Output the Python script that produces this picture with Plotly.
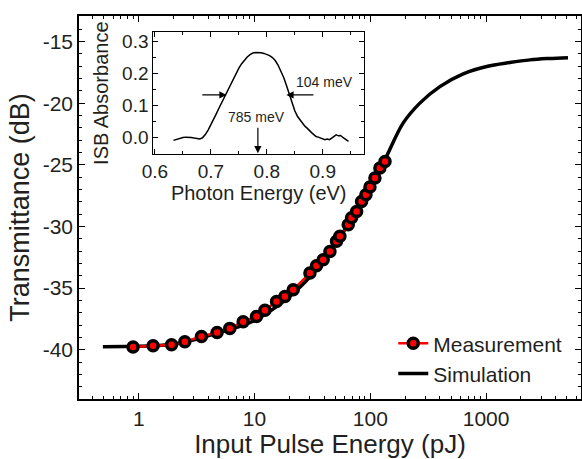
import plotly.graph_objects as go

# ---- main data ----
meas_energy = [0.893, 1.33, 1.92, 2.50, 3.48, 4.75, 6.12, 7.98, 10.4, 12.3, 15.5, 18.3, 21.6,
               30.1, 34.3, 39.2, 44.8, 51.1, 54.6, 64.5, 68.9, 76.2, 84.1, 91.7, 99.3, 109.6, 121, 134]
meas_trans = [-39.78, -39.68, -39.60, -39.35, -38.92, -38.60, -38.27, -37.73, -37.30, -36.80, -36.08,
              -35.68, -35.13, -33.78, -33.19, -32.70, -32.03, -31.20, -30.80, -29.86, -29.30, -28.78,
              -27.97, -27.43, -26.80, -26.07, -25.26, -24.73]

sim_energy = [0.49, 1.0, 1.5, 2.0, 3.0, 5.0, 8.0, 10.4, 15.5, 20, 30, 50, 70, 100, 138, 192,
              268, 399, 635, 1012, 1600, 2400, 3500, 5100]
sim_trans = [-39.75, -39.72, -39.65, -39.55, -39.20, -38.60, -38.00, -37.55, -36.50, -35.70,
             -34.10, -31.40, -29.30, -26.90, -24.32, -21.61, -19.99, -18.65, -17.62, -17.02,
             -16.70, -16.48, -16.37, -16.30]

y_ticks = [-40, -35, -30, -25, -20, -15]
y_ticktext = ["-40", "-35", "-30", "-25", "-20", "-15"]
x_ticks = [1, 10, 100, 1000]
x_ticktext = ["1", "10", "100", "1000"]

# ---- inset data ----
photon_energy = [0.633, 0.640, 0.645, 0.650, 0.655, 0.660, 0.665, 0.670, 0.675, 0.680, 0.685,
                 0.690, 0.695, 0.700, 0.705, 0.710, 0.715, 0.720, 0.725, 0.730, 0.735, 0.740,
                 0.745, 0.750, 0.755, 0.760, 0.765, 0.770, 0.775, 0.780, 0.785, 0.790, 0.795,
                 0.800, 0.805, 0.810, 0.815, 0.820, 0.825, 0.830, 0.835, 0.840, 0.845, 0.850,
                 0.855, 0.860, 0.864, 0.868, 0.872, 0.876, 0.880, 0.884, 0.888, 0.892, 0.896,
                 0.900, 0.904, 0.908, 0.912, 0.916, 0.920, 0.924, 0.928, 0.932, 0.936, 0.940,
                 0.943, 0.946]
isb_absorbance = [-0.008, -0.004, -0.001, 0.001, 0.002, 0.002, 0.001, -0.001, -0.003, -0.004, 0.000,
                  0.010, 0.024, 0.040, 0.058, 0.076, 0.094, 0.112, 0.129, 0.146, 0.164, 0.182,
                  0.200, 0.216, 0.230, 0.242, 0.251, 0.258, 0.263, 0.265, 0.265, 0.264, 0.262,
                  0.259, 0.255, 0.249, 0.240, 0.226, 0.208, 0.188, 0.163, 0.136, 0.108, 0.084,
                  0.066, 0.054, 0.046, 0.036, 0.030, 0.022, 0.016, 0.010, 0.004, 0.002, -0.001,
                  -0.003, -0.006, -0.004, -0.006, -0.001, 0.004, 0.009, 0.006, 0.007, 0.001, -0.004,
                  -0.006, -0.011]

FONT = "Liberation Sans, Arial, sans-serif"
TXT = "#231f20"

fig = go.Figure()

fig.add_trace(go.Scatter(
    x=sim_energy, y=sim_trans, mode="lines", name="Simulation",
    line=dict(color="black", width=3.5, shape="spline", smoothing=1.0),
    xaxis="x", yaxis="y"))

fig.add_trace(go.Scatter(
    x=meas_energy, y=meas_trans, mode="lines+markers", name="Measurement",
    line=dict(color="#ff0000", width=2.5),
    marker=dict(color="#ff0000", size=10, line=dict(color="black", width=3.5)),
    xaxis="x", yaxis="y"))

fig.add_trace(go.Scatter(
    x=photon_energy, y=isb_absorbance, mode="lines", showlegend=False,
    line=dict(color="black", width=1.5),
    xaxis="x2", yaxis="y2"))

axis_common = dict(showline=True, linecolor="black", mirror="allticks", automargin=False,
                   ticks="inside", tickcolor="black", showgrid=False, zeroline=False)

fig.update_layout(
    width=582, height=459,
    margin=dict(l=79, r=1, t=16, b=60, autoexpand=False),
    paper_bgcolor="white", plot_bgcolor="white",
    font=dict(family=FONT, color=TXT),
    legend=dict(x=0.626, y=0.198, xanchor="left", yanchor="top",
                font=dict(size=21, family=FONT, color=TXT),
                bgcolor="rgba(0,0,0,0)", traceorder="reversed",
                itemwidth=30, tracegroupgap=0),
    xaxis=dict(type="log", range=[-0.516, 3.82], tickvals=x_ticks, ticktext=x_ticktext,
               ticklen=6, tickwidth=1.2, linewidth=1.5,
               minor=dict(ticks="inside", ticklen=3, tickcolor="black", dtick="D1", showgrid=False),
               tickfont=dict(size=21),
               title=dict(text="Input Pulse Energy (pJ)", font=dict(size=26), standoff=3),
               **axis_common),
    yaxis=dict(range=[-44, -12.92], tickvals=y_ticks, ticktext=y_ticktext,
               ticklen=6, tickwidth=1.2, linewidth=1.5,
               minor=dict(ticks="inside", ticklen=3, tickcolor="black", dtick=1, showgrid=False),
               tickfont=dict(size=21),
               title=dict(text="Transmittance (dB)", font=dict(size=27), standoff=5),
               **axis_common),
    xaxis2=dict(domain=[0.148, 0.568], anchor="y2", range=[0.597, 0.974],
                tick0=0.6, dtick=0.1, tickformat=".1f", ticklen=5, linewidth=1,
                minor=dict(ticks="inside", ticklen=3, tickcolor="black", dtick=0.05),
                tickfont=dict(size=19),
                title=dict(text="Photon Energy (eV)", font=dict(size=20), standoff=5),
                **axis_common),
    yaxis2=dict(domain=[0.640, 0.957], anchor="x2", range=[-0.05, 0.327],
                tick0=0, dtick=0.1, tickformat=".1f", ticklen=5, linewidth=1,
                minor=dict(ticks="inside", ticklen=3, tickcolor="black", dtick=0.05),
                tickfont=dict(size=19),
                title=dict(text="ISB Absorbance", font=dict(size=20), standoff=8),
                **axis_common),
)

arrow = dict(showarrow=True, arrowhead=2, arrowsize=1.2, arrowwidth=1.2, arrowcolor="black",
             xref="x2", yref="y2", axref="x2", ayref="y2", text="", standoff=0)
fig.add_annotation(x=0.728, y=0.133, ax=0.682, ay=0.133, **arrow)
fig.add_annotation(x=0.835, y=0.133, ax=0.886, ay=0.133, **arrow)
fig.add_annotation(x=0.784, y=-0.048, ax=0.784, ay=0.036, **arrow)
fig.add_annotation(x=0.904, y=0.174, xref="x2", yref="y2", text="104 meV", showarrow=False,
                   font=dict(size=14, color=TXT))
fig.add_annotation(x=0.782, y=0.065, xref="x2", yref="y2", text="785 meV", showarrow=False,
                   font=dict(size=14, color=TXT))

fig.write_html("out.html", config={"displayModeBar": False},
               post_script="document.body.style.margin='0px';")
